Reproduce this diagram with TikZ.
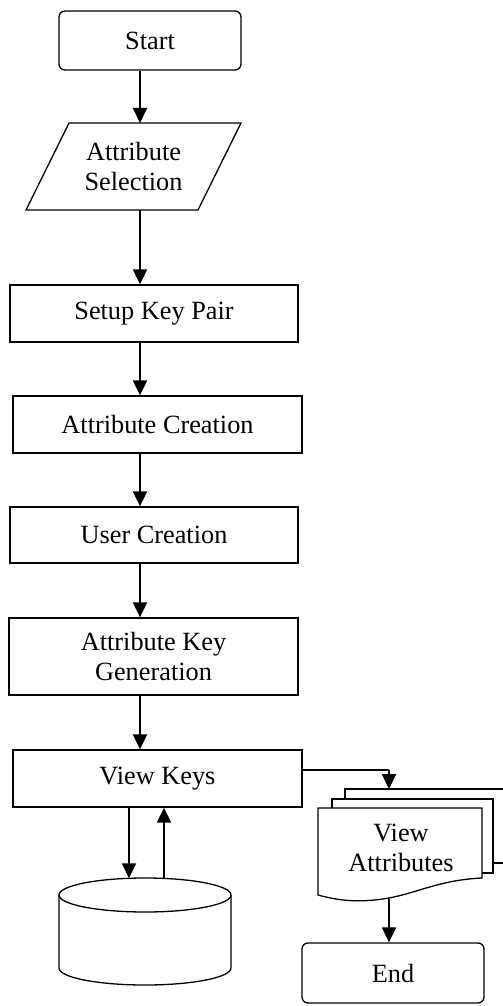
\documentclass[tikz,border=0pt]{standalone}
\usepackage{fontspec}
\setmainfont{Liberation Serif}
\usetikzlibrary{arrows.meta,calc}
\begin{document}
\begin{tikzpicture}[x=1pt,y=-1pt,
  every node/.append style={font=\fontsize{26.3}{30}\selectfont, align=center, inner sep=0pt},
  box/.style={draw, line width=1.3pt, rectangle},
  term/.style={draw, line width=1.3pt, rectangle, rounded corners=6pt, minimum width=182pt, minimum height=59pt},
  shp/.style={draw, line width=1.3pt, line join=miter},
  arr/.style={line width=2pt, -{Triangle[length=15pt,width=14pt]}},
  ln/.style={line width=2pt}]
\useasboundingbox (0,0) rectangle (503,1006);

% Start
\node[term] (start) at (150,40.5) {Start};

% Attribute Selection (parallelogram)
\draw[shp] (69,123) -- (241,123) -- (198,210) -- (26,210) -- cycle;
\node (sel) at (133.5,166.5) {Attribute\\Selection};
\coordinate (selT) at (140,123);
\coordinate (selB) at (140,210);
\coordinate (col) at (140,0);

% Process boxes
\node[box, minimum width=288pt, minimum height=57pt] (setup) at (154,313.5) {Setup Key Pair};
\node[box, minimum width=289pt, minimum height=57pt] (acre) at (157.5,424.5) {Attribute Creation};
\node[box, minimum width=288pt, minimum height=56pt] (ucre) at (154,535) {User Creation};
\node[box, minimum width=289pt, minimum height=77pt] (akg) at (153.5,656.5) {Attribute Key\\Generation};
\node[box, minimum width=289pt, minimum height=57pt] (vk) at (157.5,778.5) {View Keys};

% Vertical arrows
\draw[arr] (start.south -| col) -- (selT);
\draw[arr] (selB) -- (setup.north -| col);
\draw[arr] (setup.south -| col) -- (acre.north -| col);
\draw[arr] (acre.south -| col) -- (ucre.north -| col);
\draw[arr] (ucre.south -| col) -- (akg.north -| col);
\draw[arr] (akg.south -| col) -- (vk.north -| col);

% Database cylinder
\draw[shp] (59,895) -- (59,968) arc[start angle=180, end angle=360, x radius=86, y radius=-17] -- (231,895);
\draw[shp] (145,895) ellipse[x radius=86, y radius=17];
\coordinate (dbIn) at (129,878.3);
\coordinate (dbOut) at (164,878.6);
\draw[arr] (vk.south -| dbIn) -- (dbIn);
\draw[arr] (dbOut) -- (vk.south -| dbOut);

% Multi-document
\draw[shp] (345,799) -- (345,789) -- (503,789);
\draw[shp] (493,863) -- (503,863);
\draw[shp] (332,808) -- (332,799) -- (493,799) -- (493,873) -- (482,873);
\draw[shp, fill=white] (318,895) -- (318,808) -- (482,808) -- (482,878)
  .. controls (440,880) and (420,892) .. (389,898)
  .. controls (360,903) and (340,901) .. (318,895) -- cycle;
\node (va) at (401,848) {View\\Attributes};
\coordinate (docTop) at (389,789);
\coordinate (docBot) at (389,898.5);
\coordinate (vkR) at ($(vk.north east)!0.35!(vk.south east)$);
\draw[ln] (vkR) -- (vkR -| docTop);
\draw[arr] (vkR -| docTop) -- (docTop);

% End
\node[term, minimum height=60pt] (end) at (393,973) {End};
\draw[arr] (docBot) -- (end.north -| docBot);
\end{tikzpicture}
\end{document}
